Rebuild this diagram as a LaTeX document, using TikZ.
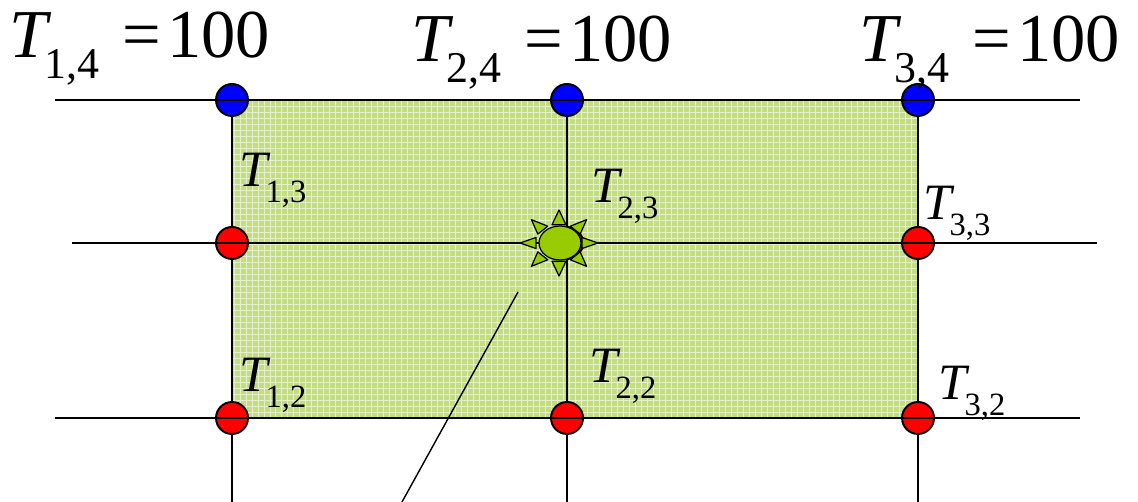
\documentclass[tikz,border=0pt]{standalone}
\usepackage{fontspec}
\setmainfont{Liberation Serif}
\usetikzlibrary{backgrounds}
\definecolor{gridgreen}{HTML}{C2DE80}
\definecolor{sungreen}{HTML}{99CC00}
\tikzset{
  NODE/.style={circle, draw=black, fill=#1, line width=1.1pt,
    minimum size=0.64cm, inner sep=0pt},
  GRD/.style={draw=black, line width=1.1pt},
  LBL/.style={anchor=base west, inner sep=0pt, font=\fontsize{#1}{#1}\selectfont},
  RAY/.style={draw=black, fill=sungreen, line width=0.7pt, line join=round},
}
\newcommand\Tsub[2]{{\itshape T}\kern-0.04em\raisebox{-0.3em}{\fontsize{#2}{#2}\selectfont #1}}

\begin{document}
\begin{tikzpicture}[x=0.02cm, y=0.02cm]
  \useasboundingbox (0,0) rectangle (1138,502);
  \foreach \nm/\x/\y/\col in {
      n14/232/402/blue, n24/567/402/blue, n34/918/402/blue,
      n13/232/259/red,  n23/567/259/red,  n33/918/259/red,
      n12/232/84/red,   n22/567/84/red,   n32/918/84/red}{
    \node[NODE=\col] (\nm) at (\x,\y) {};}
  \foreach \nm/\x/\y in {h4w/55/402, h4e/1080/402, h3w/72/259, h3e/1097/259,
      h2w/55/84, h2e/1080/84, v1b/232/0, v2b/567/0, v3b/918/0,
      ldtop/518/210, ldbot/402/0}{
    \coordinate (\nm) at (\x,\y);}
  \begin{pgfonlayer}{background}
    \fill[gridgreen] (n12.center) rectangle (n34.center);
    \draw[white, opacity=0.6, line width=0.5pt, step=0.12cm] (n12.center) grid (n34.center);
    \draw[GRD] (n14.center) -- (n12.center) -- (v1b);
    \draw[GRD] (n24.center) -- (n22.center) -- (v2b);
    \draw[GRD] (n34.center) -- (n32.center) -- (v3b);
  \end{pgfonlayer}
  \draw[GRD] (h4w) -- (n14.center) -- (n24.center) -- (n34.center) -- (h4e);
  \draw[GRD] (h3w) -- (n13.center) -- (n23.center) -- (n33.center) -- (h3e);
  \draw[GRD] (h2w) -- (n12.center) -- (n22.center) -- (n32.center) -- (h2e);
  \begin{scope}[shift={(559,259)}]
    \foreach \a in {0,45,...,315}{
      \filldraw[RAY] (\a:39 and 33) -- ({\a+17}:24 and 19) -- ({\a-17}:24 and 19) -- cycle;}
    \filldraw[RAY] (1,0) ellipse [x radius=21, y radius=17];
  \end{scope}
  \draw[line width=0.8pt] (ldtop) -- (ldbot);
  \node[LBL=39] (t14) at (9,444) {\Tsub{1,4}{25}\hspace{0.33em}=\hspace{0.09em}100};
  \node[LBL=39] (t24) at (411,440) {\Tsub{2,4}{25}\hspace{0.33em}=\hspace{0.09em}100};
  \node[LBL=39] (t34) at (859,440) {\Tsub{3,4}{25}\hspace{0.33em}=\hspace{0.09em}100};
  \node[LBL=29] (t13) at (239,315) {\Tsub{1,3}{18.5}};
  \node[LBL=29] (t23) at (591,299) {\Tsub{2,3}{18.5}};
  \node[LBL=29] (t33) at (923,282) {\Tsub{3,3}{18.5}};
  \node[LBL=29] (t12) at (239,110) {\Tsub{1,2}{18.5}};
  \node[LBL=29] (t22) at (589,119) {\Tsub{2,2}{18.5}};
  \node[LBL=29] (t32) at (938,102) {\Tsub{3,2}{18.5}};
\end{tikzpicture}
\end{document}
